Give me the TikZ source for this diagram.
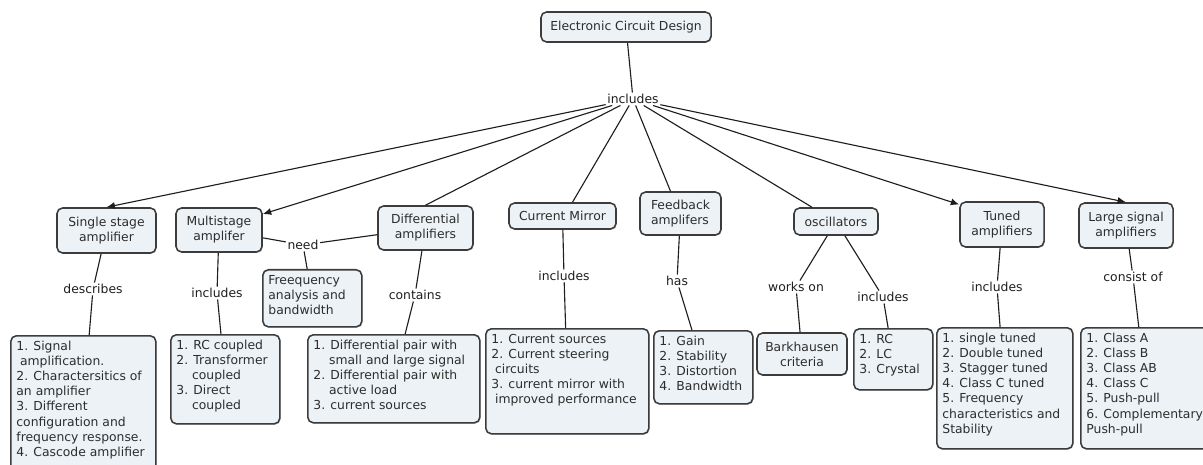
\documentclass[tikz,border=0pt]{standalone}
\usepackage{fontspec}
\setmainfont{DejaVu Sans}
\usetikzlibrary{arrows.meta,shadows}
\definecolor{boxfill}{RGB}{236,242,245}
\definecolor{boxline}{RGB}{60,60,60}
\definecolor{textgray}{RGB}{45,45,45}
\definecolor{linkgray}{RGB}{30,30,30}
\newcommand{\listbody}[3]{\begin{minipage}[t][#1][t]{#2}\raggedright #3\end{minipage}}

\tikzset{
	concept/.style={
		draw=boxline,
		line width=1.1pt,
		fill=boxfill,
		rounded corners=4pt,
		drop shadow={shadow xshift=0.6pt,shadow yshift=-0.6pt,fill=black!45},
		align=center,
		text=textgray,
		inner sep=2pt
	},
	listbox/.style={
		concept,
		anchor=north west,
		inner sep=4pt
	},
	linkword/.style={inner sep=1pt,text=linkgray},
	link/.style={draw=linkgray,line width=0.8pt},
	arrowlink/.style={link,-{Latex[length=6pt,width=5pt]}}
}

\begin{document}
\begin{tikzpicture}[x=0.025cm,y=-0.025cm,font=\fontsize{8.8}{10.7}\selectfont]
		
		\clip (0,0) rectangle (1203,465);
		
		\node[concept,minimum width=4.25cm,minimum height=0.75cm]
		(root) at (626,27) {Electronic Circuit Design};
		
		\node[linkword] (inc) at (633,99) {includes};
		
		\node[concept,minimum width=2.475cm,minimum height=1.125cm]
		(single) at (106.5,230.5) {Single stage\\amplifier};
		
		\node[concept,minimum width=2.15cm,minimum height=1.1cm]
		(multi) at (219,230) {Multistage\\amplifer};
		
		\node[concept,minimum width=2.375cm,minimum height=1.1cm]
		(diff) at (425.5,228) {Differential\\amplifiers};
		
		\node[concept,minimum width=2.675cm,minimum height=0.65cm]
		(cm) at (562.5,216) {Current Mirror};
		
		\node[concept,minimum width=2.025cm,minimum height=1.075cm,align=left]
		(fb) at (680.5,213.5) {Feedback\\amplifers};
		
		\node[concept,minimum width=2.1cm,minimum height=0.675cm]
		(osc) at (836,221.5) {oscillators};
		
		\node[concept,minimum width=2.1cm,minimum height=1.125cm]
		(tuned) at (1002,224.5) {Tuned\\amplifiers};
		
		\node[concept,minimum width=2.35cm,minimum height=1.125cm]
		(large) at (1126,225.5) {Large signal\\amplifiers};
		
		\draw[link] (root) -- (inc);
		\draw[arrowlink] (inc) -- (single.north);
		\draw[arrowlink] (inc) -- (multi.20);
		\draw[link] (inc) -- (diff.north);
		\draw[link] (inc) -- ([xshift=0.25cm]cm.north);
		\draw[link] (inc) -- ([xshift=-0.25cm]fb.north);
		\draw[link] (inc) -- ([xshift=-0.6cm]osc.north);
		\draw[arrowlink] (inc) -- (tuned.155);
		\draw[arrowlink] (inc) -- (large.north);
		
		\node[linkword] (desc) at (93,289) {describes};
		\node[linkword] (minc) at (217,293) {includes};
		\node[linkword] (need) at (303,245) {need};
		\node[linkword] (cont) at (415,295) {contains};
		\node[linkword] (cminc) at (564,276) {includes};
		\node[linkword] (has) at (677,281) {has};
		\node[linkword] (works) at (796,287) {works on};
		\node[linkword] (oinc) at (883,297) {includes};
		\node[linkword] (tinc) at (997,287) {includes};
		\node[linkword] (cons) at (1133,277) {consist of};
		
		\node[listbox] (singlelist) at (10,335)
		{\listbody{3.22cm}{3.345cm}{1. Signal\\\hspace*{0.3em}amplification.\\2. Charactersitics of\\an amplifier\\3. Different\\configuration and\\frequency response.\\4. Cascode amplifier}};
		
		\node[listbox] (multilist) at (170,334)
		{\listbody{1.945cm}{2.445cm}{1. RC coupled\\2. Transformer\\\hspace*{1.27em}coupled\\3. Direct\\\hspace*{1.27em}coupled}};
		
		\node[listbox] (freq) at (262,269)
		{\listbody{1.145cm}{2.195cm}{Freequency\\analysis and\\bandwidth}};
		
		\node[listbox] (difflist) at (307,334)
		{\listbody{1.92cm}{4.02cm}{1. Differential pair with\\\hspace*{1.27em}small and large signal\\2. Differential pair with\\\hspace*{1.27em}active load\\3. current sources}};
		
		\node[listbox] (cmlist) at (485,328)
		{\listbody{2.345cm}{3.795cm}{1. Current sources\\2. Current steering\\\hspace*{0.3em}circuits\\3. current mirror with\\\hspace*{0.3em}improved performance}};
		
		\node[listbox] (fblist) at (653,330)
		{\listbody{1.545cm}{2.195cm}{1. Gain\\2. Stability\\3. Distortion\\4. Bandwidth}};
		
		\node[concept,minimum width=2.25cm,minimum height=1.05cm]
		(bark) at (802,354) {Barkhausen\\criteria};
		
		\node[listbox] (osclist) at (853,328)
		{\listbody{1.245cm}{1.695cm}{1. RC\\2. LC\\3. Crystal}};
		
		\node[listbox] (tunedlist) at (936,327)
		{\listbody{2.745cm}{3.12cm}{1. single tuned\\2. Double tuned\\3. Stagger tuned\\4. Class C tuned\\5. Frequency\\characteristics and\\Stability}};
		
		\node[listbox] (largelist) at (1080,327)
		{\listbody{2.745cm}{2.97cm}{1. Class A\\2. Class B\\3. Class AB\\4. Class C\\5. Push-pull\\6. Complementary\\Push-pull}};
		
		\draw[link] (single) -- (desc) -- (singlelist);
		\draw[link] (multi) -- (minc) -- (multilist);
		\draw[link] (multi) -- (need);
		\draw[link] (diff) -- (need);
		\draw[link] (need) -- (freq);
		\draw[link] (diff) -- (cont) -- (difflist);
		\draw[link] (cm) -- (cminc) -- (cmlist);
		\draw[link] (fb) -- (has) -- (fblist);
		\draw[link] (osc) -- (works) -- (bark);
		\draw[link] (osc) -- (oinc) -- (osclist);
		\draw[link] (tuned) -- (tinc) -- (tunedlist);
		\draw[link] (large) -- (cons) -- (largelist);
		
	\end{tikzpicture}
\end{document}
